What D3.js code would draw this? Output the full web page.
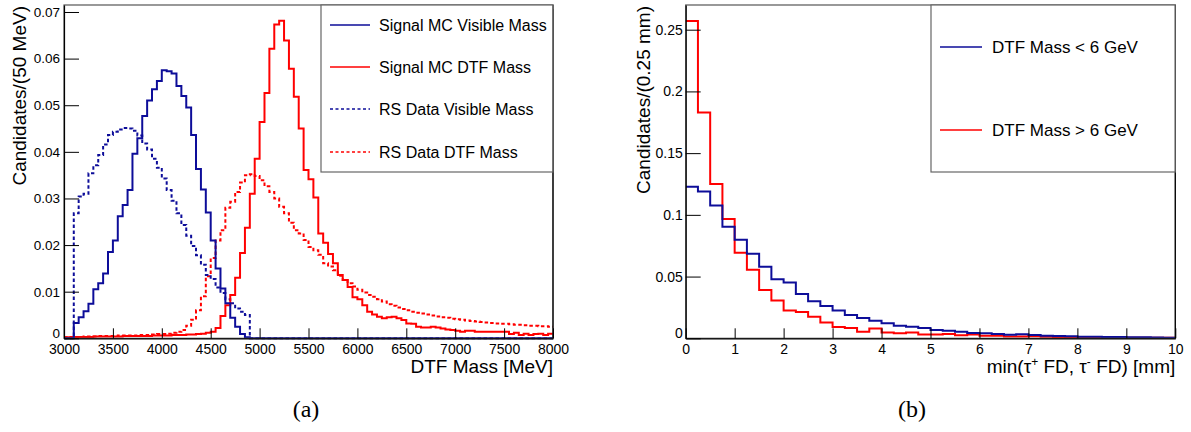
<!DOCTYPE html>
<html><head><meta charset="utf-8">
<script src="https://cdn.jsdelivr.net/npm/d3@7"></script>
<style>
body{margin:0;background:#fff;}
svg{display:block;font-family:"Liberation Sans",Arial,Helvetica,sans-serif;}
</style></head>
<body>
<script>
// ---------- DATA ----------
// Panel (a): DTF / visible mass, 50 MeV bins from 3000 to 8000 MeV
const massRange = [3000, 8000];
const massBinWidth = 50;
const sigMCVisible = [0,0,0.0033,0.0045,0.0058,0.0074,0.0105,0.0118,0.0139,0.0185,
 0.0210,0.0262,0.0286,0.0318,0.0396,0.0429,0.0477,0.0510,0.0534,0.0552,
 0.0575,0.0573,0.0568,0.0541,0.0520,0.0495,0.0436,0.0363,0.0319,0.0270,
 0.0210,0.0150,0.0107,0.0075,0.0044,0.0025,0.0009,0.0002,0,0,
 0,0,0,0,0,0,0,0,0,0, 0,0,0,0,0,0,0,0,0,0, 0,0,0,0,0,0,0,0,0,0,
 0,0,0,0,0,0,0,0,0,0, 0,0,0,0,0,0,0,0,0,0, 0,0,0,0,0,0,0,0,0,0];
const sigMCDTF = [0.0002,0.0002,0.0003,0.0003,0.0003,0.0003,0.0004,0.0004,0.0004,0.0004,
 0.0004,0.0004,0.0005,0.0005,0.0005,0.0005,0.0005,0.0005,0.0006,0.0006,
 0.0006,0.0006,0.0007,0.0007,0.0007,0.0008,0.0008,0.0009,0.0010,0.0012,
 0.0014,0.0022,0.0048,0.0071,0.0093,0.0130,0.0183,0.0237,0.0310,0.0385,
 0.0464,0.0526,0.0621,0.0673,0.0681,0.0639,0.0578,0.0518,0.0450,0.0361,
 0.0341,0.0302,0.0225,0.0205,0.0181,0.0161,0.0136,0.0125,0.0110,0.0088,
 0.0084,0.0071,0.0057,0.0051,0.0046,0.0043,0.0045,0.0046,0.0043,0.0039,
 0.0032,0.0031,0.0025,0.0023,0.0023,0.0025,0.0023,0.0021,0.0019,0.0018,
 0.0016,0.0014,0.0016,0.0016,0.0014,0.0014,0.0014,0.0014,0.0014,0.0014,
 0.0014,0.0009,0.0012,0.0007,0.0010,0.0007,0.0009,0.0010,0.0007,0.0010];
const rsDataVisible = [0,0,0.0268,0.0304,0.0310,0.0354,0.0371,0.0393,0.0416,0.0436,
 0.0443,0.0448,0.0451,0.0450,0.0445,0.0435,0.0418,0.0405,0.0385,0.0366,
 0.0343,0.0318,0.0295,0.0268,0.0243,0.0220,0.0198,0.0178,0.0158,0.0136,
 0.0127,0.0109,0.0097,0.0084,0.0075,0.0064,0.0057,0.0050,0,0,
 0,0,0,0,0,0,0,0,0,0, 0,0,0,0,0,0,0,0,0,0, 0,0,0,0,0,0,0,0,0,0,
 0,0,0,0,0,0,0,0,0,0, 0,0,0,0,0,0,0,0,0,0, 0,0,0,0,0,0,0,0,0,0];
const rsDataDTF = [0.0002,0.0003,0.0003,0.0003,0.0004,0.0004,0.0004,0.0005,0.0005,0.0005,
 0.0005,0.0006,0.0006,0.0006,0.0006,0.0007,0.0007,0.0007,0.0008,0.0009,
 0.0009,0.0010,0.0012,0.0014,0.0018,0.0027,0.0040,0.0060,0.0090,0.0133,
 0.0172,0.0210,0.0232,0.0280,0.0293,0.0314,0.0334,0.0350,0.0352,0.0348,
 0.0339,0.0326,0.0314,0.0300,0.0282,0.0268,0.0248,0.0232,0.0225,0.0211,
 0.0196,0.0189,0.0179,0.0161,0.0154,0.0146,0.0134,0.0125,0.0118,0.0111,
 0.0104,0.0098,0.0093,0.0089,0.0084,0.0079,0.0073,0.0070,0.0066,0.0063,
 0.0060,0.0057,0.0055,0.0053,0.0051,0.0049,0.0047,0.0045,0.0044,0.0042,
 0.0041,0.0040,0.0038,0.0037,0.0036,0.0035,0.0034,0.0033,0.0032,0.0031,
 0.0031,0.0030,0.0029,0.0029,0.0028,0.0027,0.0027,0.0026,0.0026,0.0025];
const massXTicks = [3000,3500,4000,4500,5000,5500,6000,6500,7000,7500,8000];
const massYTicks = [0,0.01,0.02,0.03,0.04,0.05,0.06,0.07];
const massYTickLabels = ["0","0.01","0.02","0.03","0.04","0.05","0.06","0.07"];
const massLegend = ["Signal MC Visible Mass","Signal MC DTF Mass","RS Data Visible Mass","RS Data DTF Mass"];

// Panel (b): min flight distance, 0.25 mm bins from 0 to 10 mm
const fdRange = [0, 10];
const fdBinWidth = 0.25;
const fdLowMass = [0.1227,0.1190,0.1076,0.0903,0.0799,0.0685,0.0580,0.0479,0.0453,0.0358,
 0.0300,0.0262,0.0226,0.0188,0.0164,0.0143,0.0121,0.0101,0.0094,0.0083,
 0.0068,0.0062,0.0054,0.0042,0.0040,0.0035,0.0028,0.0032,0.0027,0.0020,
 0.0019,0.0016,0.0013,0.0012,0.0011,0.0010,0.0008,0.0008,0.0006,0.0005];
const fdHighMass = [0.2570,0.1830,0.1249,0.0966,0.0694,0.0555,0.0391,0.0307,0.0226,0.0213,
 0.0175,0.0127,0.0091,0.0084,0.0054,0.0079,0.0047,0.0040,0.0046,0.0030,
 0.0030,0.0035,0.0025,0.0030,0.0020,0.0020,0.0015,0.0015,0.0017,0.0012,
 0.0010,0.0010,0.0008,0.0008,0.0006,0.0006,0.0005,0.0005,0.0004,0.0004];
const fdXTicks = [0,1,2,3,4,5,6,7,8,9,10];
const fdYTicks = [0,0.05,0.1,0.15,0.2,0.25];
const fdYTickLabels = ["0","0.05","0.1","0.15","0.2","0.25"];
const fdLegend = ["DTF Mass < 6 GeV","DTF Mass > 6 GeV"];

// ---------- DRAW ----------
const BLUE = "#0d0d99", RED = "#ff0000";
const FONT = "'Liberation Sans',Arial,Helvetica,sans-serif";
const svg = d3.select("body").append("svg").attr("width",1191).attr("height",432);
svg.append("rect").attr("width",1191).attr("height",432).attr("fill","#fff");

function drawPanel(cfg){
  const g = svg.append("g").attr("font-family",FONT);
  const x = d3.scaleLinear().domain(cfg.xDomain).range([cfg.left, cfg.right]);
  const y = d3.scaleLinear().domain([0, cfg.yMax]).range([cfg.bottom, cfg.top]);
  const clipId = "clip"+cfg.id;
  g.append("clipPath").attr("id",clipId).append("rect")
    .attr("x",cfg.left-1).attr("y",cfg.top).attr("width",cfg.right-cfg.left+2).attr("height",cfg.bottom-cfg.top+1.5);

  // histograms
  const line = d3.line().x(d=>x(d[0])).y(d=>y(d[1])).curve(d3.curveStepAfter);
  const hg = g.append("g").attr("clip-path",`url(#${clipId})`);
  cfg.hists.forEach(h=>{
    const pts = h.values.map((v,i)=>[cfg.xDomain[0]+i*cfg.binW, v]);
    pts.push([cfg.xDomain[1], h.values[h.values.length-1]]);
    hg.append("path").attr("d", line(pts)).attr("fill","none")
      .attr("stroke",h.color).attr("stroke-width",2)
      .attr("stroke-dasharray",h.dash||null).attr("stroke-linejoin","miter");
  });

  // frame
  g.append("rect").attr("x",cfg.left).attr("y",cfg.top).attr("width",cfg.right-cfg.left)
    .attr("height",cfg.bottom-cfg.top).attr("fill","none").attr("stroke","#555").attr("stroke-width",1.2);
  g.append("line").attr("x1",cfg.right).attr("x2",cfg.right).attr("y1",cfg.top+4).attr("y2",cfg.bottom)
    .attr("stroke","#000").attr("stroke-width",1.2);

  // x axis
  const xa = g.append("g").attr("transform",`translate(0,${cfg.bottom})`);
  xa.call(d3.axisBottom(x).tickValues(cfg.xMinor).tickSizeInner(-5).tickSizeOuter(0).tickFormat(""));
  xa.call(d3.axisBottom(x).tickValues(cfg.xTicks).tickSizeInner(-10).tickSizeOuter(0).tickPadding(5.5)
    .tickFormat(d=>String(d)));
  xa.attr("font-family",FONT);
  xa.selectAll("path.domain").attr("stroke","#000").attr("stroke-width",1.2);
  xa.selectAll("line").attr("stroke","#000");
  xa.selectAll("text").attr("font-size",14).attr("fill","#000");

  // y axis
  const ya = g.append("g").attr("transform",`translate(${cfg.left},0)`);
  ya.call(d3.axisLeft(y).tickValues(cfg.yMinor).tickSizeInner(-7.5).tickSizeOuter(0).tickFormat(""));
  ya.call(d3.axisLeft(y).tickValues(cfg.yTicks).tickSizeInner(-15).tickSizeOuter(0).tickPadding(cfg.yPad)
    .tickFormat((d,i)=>cfg.yLabels[i]));
  ya.attr("font-family",FONT);
  ya.selectAll("path.domain").attr("stroke","#000").attr("stroke-width",1.2);
  ya.selectAll("line").attr("stroke","#000");
  ya.selectAll("text").attr("font-size",cfg.yFont).attr("fill","#000")
    .attr("dy",(d)=> d===0 ? "-0.06em" : "0.32em");

  // titles
  const xt = g.append("text").attr("x",cfg.right).attr("y",373).attr("text-anchor","end")
    .attr("font-size",19).attr("fill","#000");
  cfg.xTitle(xt);
  g.append("text").attr("transform",`translate(${cfg.yTitleX},${cfg.top+1}) rotate(-90)`)
    .attr("text-anchor","end").attr("font-size",19).attr("fill","#000").text(cfg.yTitle);

  // legend
  const L = cfg.legend;
  g.append("rect").attr("x",L.x0).attr("y",cfg.top).attr("width",cfg.right-L.x0).attr("height",L.y1-cfg.top)
    .attr("fill","#fff").attr("stroke","#666").attr("stroke-width",1.2);
  L.items.forEach((it,i)=>{
    const yy = L.ys[i];
    g.append("line").attr("x1",L.lx0).attr("x2",L.lx1).attr("y1",yy).attr("y2",yy)
      .attr("stroke",it.color).attr("stroke-width",1.6).attr("stroke-dasharray",it.dash||null);
    g.append("text").attr("x",L.tx).attr("y",yy).attr("dy","0.35em").attr("font-size",L.font)
      .attr("fill","#000").text(it.label);
  });
  g.append("line").attr("x1",cfg.right).attr("x2",cfg.right).attr("y1",cfg.top).attr("y2",L.y1)
    .attr("stroke","#555").attr("stroke-width",1.2);

  // panel caption
  svg.append("text").attr("x",cfg.capX).attr("y",417).attr("text-anchor","middle")
    .attr("font-family","'Liberation Serif','DejaVu Serif',serif").attr("font-size",24).attr("fill","#000").text(cfg.caption);
}

const DASH = "3.5,2.5";
drawPanel({
  id:"a", xDomain:massRange, binW:massBinWidth, yMax:0.0715,
  left:64, right:553, top:5, bottom:338.3,
  xTicks:massXTicks, xMinor:d3.range(massRange[0], massRange[1]+1, 100),
  yTicks:massYTicks, yLabels:massYTickLabels, yMinor:d3.range(0, 0.0701, 0.002), yPad:4, yFont:13.5,
  hists:[
    {values:rsDataDTF, color:RED, dash:DASH},
    {values:rsDataVisible, color:BLUE, dash:DASH},
    {values:sigMCDTF, color:RED},
    {values:sigMCVisible, color:BLUE}
  ],
  xTitle:t=>t.text("DTF Mass [MeV]"),
  yTitle:"Candidates/(50 MeV)", yTitleX:26,
  legend:{x0:321, y1:172, lx0:330, lx1:370, tx:379, font:16, ys:[25,67,109,152],
    items:[{label:massLegend[0],color:BLUE},{label:massLegend[1],color:RED},
           {label:massLegend[2],color:BLUE,dash:"3,2.5"},{label:massLegend[3],color:RED,dash:"3,2.5"}]},
  caption:"(a)", capX:306
});

drawPanel({
  id:"b", xDomain:fdRange, binW:fdBinWidth, yMax:0.27,
  left:685.7, right:1175.3, top:5, bottom:338.3,
  xTicks:fdXTicks, xMinor:d3.range(0, 10.01, 0.2),
  yTicks:fdYTicks, yLabels:fdYTickLabels, yMinor:d3.range(0, 0.2601, 0.01), yPad:3, yFont:14,
  hists:[
    {values:fdHighMass, color:RED},
    {values:fdLowMass, color:BLUE}
  ],
  xTitle:t=>{
    t.append("tspan").text("min(τ");
    t.append("tspan").attr("font-size",12).attr("baseline-shift","super").text("+");
    t.append("tspan").text(" FD, τ");
    t.append("tspan").attr("font-size",12).attr("baseline-shift","super").text("-");
    t.append("tspan").text(" FD) [mm]");
  },
  yTitle:"Candidates/(0.25 mm)", yTitleX:650,
  legend:{x0:931, y1:172, lx0:940, lx1:982, tx:992, font:17, ys:[47,130],
    items:[{label:fdLegend[0],color:BLUE},{label:fdLegend[1],color:RED}]},
  caption:"(b)", capX:912
});
</script>
</body></html>
